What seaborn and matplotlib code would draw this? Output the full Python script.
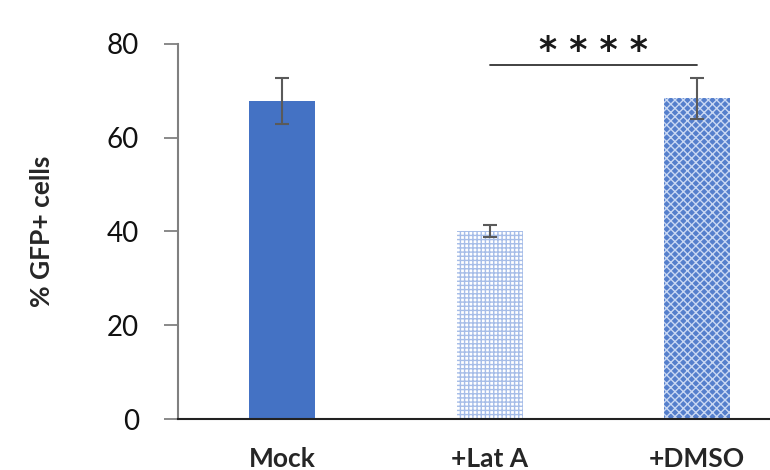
import matplotlib
matplotlib.use("Agg")
import matplotlib.pyplot as plt
import seaborn as sns
import pandas as pd

# Percentage of GFP+ cells per treatment (mean and error)
conditions = ["Mock", "+Lat A", "+DMSO"]
gfp_percent = [67.8, 40.1, 68.4]
gfp_error = [4.9, 1.2, 4.3]
sig_pair = ("+Lat A", "+DMSO")
sig_label = "* * * *"
sig_height = 75.5
y_ticks = [0, 20, 40, 60, 80]

sns.set_theme(style="white")
plt.rcParams["font.family"] = ["Lato", "DejaVu Sans"]
plt.rcParams["hatch.linewidth"] = 1.0

df = pd.DataFrame({"condition": conditions, "gfp": gfp_percent})

fig = plt.figure(figsize=(7.7, 4.7), dpi=100)
ax = fig.add_axes([0.2312, 0.1085, 0.7688, 0.7979])

blue = "#4472C4"
sns.barplot(data=df, x="condition", y="gfp", order=conditions, ax=ax,
            width=0.317, color=blue, errorbar=None, saturation=1)

# Fill styles: solid, light grid, dense cross pattern
bars = ax.patches
bars[0].set_facecolor(blue)
bars[0].set_edgecolor(blue)
bars[0].set_linewidth(0)
bars[1].set_facecolor("white")
bars[1].set_edgecolor("#A6BDE8")
bars[1].set_hatch("++++")
bars[1].set_linewidth(0)
bars[2].set_facecolor("#557FCC")
bars[2].set_edgecolor("#C9D8F3")
bars[2].set_hatch("xxxx")
bars[2].set_linewidth(0)

ax.errorbar(range(len(conditions)), gfp_percent, yerr=gfp_error, fmt="none",
            ecolor="#5a5a5a", elinewidth=1.5, capsize=5, capthick=1.5, zorder=5)

# Significance bracket
x1 = conditions.index(sig_pair[0])
x2 = conditions.index(sig_pair[1])
ax.plot([x1, x2], [sig_height, sig_height], color="#333333", lw=1.3, clip_on=False)
ax.text((x1 + x2) / 2, sig_height + 0.8, sig_label, ha="center", va="baseline",
        fontsize=25, fontweight="bold", color="#1a1a1a",
        family=["DejaVu Sans"])

ax.set_ylim(0, 80)
ax.set_xlim(-0.5, 2.35)
ax.set_yticks(y_ticks)
ax.tick_params(axis="y", labelsize=20, length=10, width=1.3, color="#808080",
               left=True, pad=18, labelcolor="#111111")
ax.tick_params(axis="x", length=0, pad=20, labelsize=19)
for lbl in ax.get_xticklabels():
    lbl.set_fontweight("bold")
ax.set_xlabel("")
ax.set_ylabel("% GFP+ cells", fontsize=19, fontweight="bold", labelpad=38)

for s in ["top", "right"]:
    ax.spines[s].set_visible(False)
ax.spines["left"].set_color("#808080")
ax.spines["left"].set_linewidth(1.5)
ax.spines["bottom"].set_color("#222222")
ax.spines["bottom"].set_linewidth(1.5)

fig.savefig("out.png", dpi=100)
